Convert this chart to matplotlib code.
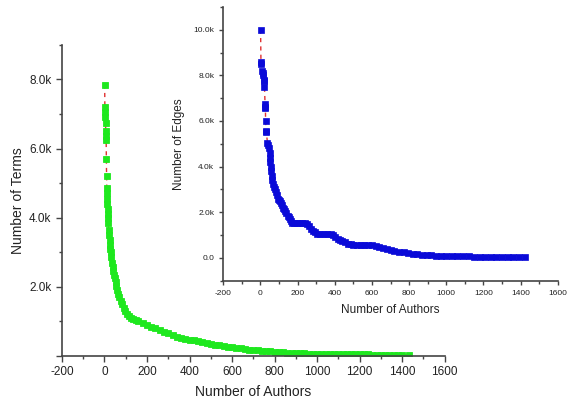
import matplotlib
matplotlib.use('Agg')
import matplotlib.pyplot as plt
from matplotlib.ticker import MultipleLocator, FuncFormatter

plt.rcParams['font.family'] = ['Liberation Sans', 'DejaVu Sans']
plt.rcParams['axes.unicode_minus'] = False

# main plot: terms per author rank
terms_x = [1, 2, 3, 4, 5, 6, 7, 8, 9, 10,
           11, 12, 13, 14, 15, 16, 17, 18, 20, 22, 24, 26, 28, 30, 33, 36, 39, 42, 45, 48,
           52, 56, 60, 65, 70, 76, 82, 90, 98, 106, 114, 124, 134, 146, 160, 180,
           200, 220, 240, 260, 280, 300, 320, 340, 360, 380, 400, 420, 440, 460, 480,
           500, 520, 540, 560, 580, 600, 620, 640, 660, 680, 700, 720, 740, 760, 780,
           800, 820, 840, 860, 880, 900, 920, 940, 960, 980, 1000, 1020, 1040, 1060,
           1080, 1100, 1120, 1140, 1160, 1180, 1200, 1220, 1240, 1260, 1280, 1300,
           1320, 1340, 1360, 1380, 1400, 1430]
terms_y = [7850, 7200, 7050, 6900, 6750, 6500, 6350, 6250, 5700, 5200,
           4850, 4700, 4550, 4400, 4250, 4100, 3980, 3850, 3650, 3500, 3350, 3200, 3100, 3000,
           2850, 2700, 2570, 2450, 2350, 2250, 2130, 2020, 1920, 1800, 1700, 1600, 1500,
           1400, 1300, 1220, 1160, 1100, 1060, 1030, 1000, 950,
           900, 850, 800, 750, 700, 650, 600, 560, 530, 500, 470, 450, 420, 400, 370,
           350, 330, 310, 290, 270, 250, 230, 220, 200, 180, 170, 160, 150, 140, 130,
           120, 110, 100, 95, 90, 85, 80, 75, 70, 68, 65, 62, 60, 58,
           56, 54, 52, 50, 48, 46, 45, 44, 42, 40, 38, 37,
           36, 35, 34, 33, 32, 30]

# inset: edges per author rank
edges_x = [1, 3, 5, 8, 12, 16, 18, 20, 22, 25, 26, 27, 28, 30, 32, 38, 42, 46, 50, 52,
           54, 56, 58, 60, 64, 68, 74, 80, 86, 90, 94, 98, 104, 110, 116, 122, 128, 134,
           140, 146, 152, 158, 164, 170, 180, 195, 210, 225, 240, 252, 262, 272, 282,
           292, 302, 320, 340, 360, 380, 392, 404, 416, 428, 440, 455, 470, 485, 500,
           520, 540, 560, 580, 600, 620, 640, 660, 680, 700, 720, 745, 770, 795, 820,
           845, 870, 895, 920, 945, 970, 1000, 1030, 1060, 1090, 1120, 1150, 1180,
           1210, 1240, 1270, 1300, 1330, 1360, 1390, 1423]
edges_y = [10000, 8600, 8500, 8200, 8100, 8000, 7800, 7750, 7500, 6750, 6600, 6550, 6000,
           5550, 5500, 5050, 4950, 4800, 4600, 4400, 4200, 4000, 3800, 3600, 3400, 3250,
           3100, 3000, 2900, 2750, 2600, 2550, 2500, 2400, 2300, 2200, 2150, 2050, 1950,
           1850, 1800, 1700, 1600, 1550, 1520, 1520, 1520, 1520, 1520, 1480, 1380, 1280,
           1200, 1120, 1050, 1050, 1050, 1050, 1050, 1000, 920, 850, 790, 740, 680, 630,
           600, 560, 550, 550, 550, 550, 550, 540, 500, 440, 380, 330, 300, 270, 240,
           210, 180, 160, 140, 120, 110, 100, 90, 85, 80, 75, 70, 65, 60, 55, 50, 45,
           40, 40, 35, 35, 30, 30]

spine_col = '#444444'


def style_axes(ax, tick_size, major_len, minor_len):
    for side in ['top', 'right']:
        ax.spines[side].set_visible(False)
    for side in ['left', 'bottom']:
        ax.spines[side].set_color(spine_col)
        ax.spines[side].set_linewidth(1.2)
    ax.tick_params(which='major', direction='out', length=major_len, width=1,
                   color=spine_col, labelsize=tick_size, labelcolor='#222222')
    ax.tick_params(which='minor', direction='out', length=minor_len, width=1,
                   color=spine_col)
    ax.xaxis.set_major_locator(MultipleLocator(200))
    ax.xaxis.set_minor_locator(MultipleLocator(100))
    ax.yaxis.set_minor_locator(MultipleLocator(1000))
    ax.patch.set_alpha(0)


fig = plt.figure(figsize=(5.68, 4.04), dpi=100)

ax = fig.add_axes([0.109, 0.119, 0.674, 0.770])
ax.plot(terms_x, terms_y, color='#e03030', lw=1, ls=(0, (3, 3)), zorder=1)
ax.plot(terms_x, terms_y, ls='none', marker='s', ms=5.0, mec='#1ee81e', mew=0.6,
        color='#1ee81e', zorder=2)
ax.set_xlim(-200, 1600)
ax.set_ylim(0, 9000)
style_axes(ax, 8.5, 4, 2.5)
ax.yaxis.set_major_locator(MultipleLocator(2000))
ax.yaxis.set_major_formatter(FuncFormatter(lambda v, p: '' if v == 0 else f'{v / 1000:.1f}k'))
ax.set_xlabel('Number of Authors', fontsize=10, color='#222222', labelpad=5)
ax.set_ylabel('Number of Terms', fontsize=10, color='#222222', labelpad=3)

ins = fig.add_axes([0.393, 0.305, 0.589, 0.678])
ins.plot(edges_x, edges_y, color='#e03030', lw=1, ls=(0, (3, 3)), zorder=1)
ins.plot(edges_x, edges_y, ls='none', marker='s', ms=4.4, mec='#0a0ad8', mew=0.5,
         color='#0a0ad8', zorder=2)
ins.set_xlim(-200, 1600)
ins.set_ylim(-1000, 11000)
style_axes(ins, 6, 3, 2)
ins.yaxis.set_major_locator(MultipleLocator(2000))
ins.yaxis.set_major_formatter(FuncFormatter(lambda v, p: '0.0' if v == 0 else f'{v / 1000:.1f}k'))
ins.set_xlabel('Number of Authors', fontsize=8.5, color='#222222', labelpad=5)
ins.set_ylabel('Number of Edges', fontsize=8.5, color='#222222', labelpad=6)

fig.savefig('out.png', dpi=100)
